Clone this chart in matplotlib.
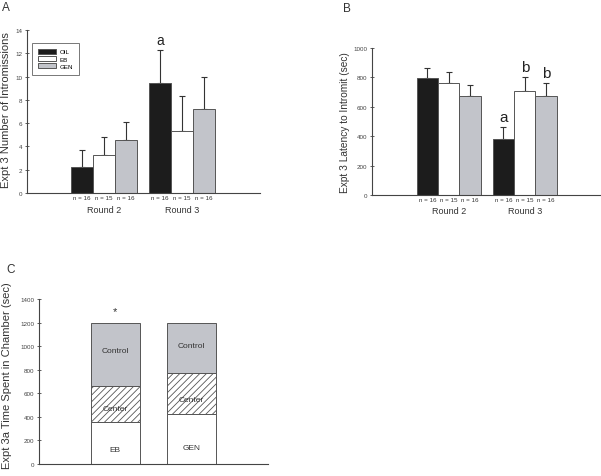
import matplotlib
matplotlib.use("Agg")
import matplotlib.pyplot as plt
import numpy as np

plt.rcParams['font.family'] = ['Liberation Sans', 'DejaVu Sans']
plt.rcParams['hatch.color'] = '#333333'
plt.rcParams['hatch.linewidth'] = 0.6

groups = ['OIL', 'EB', 'GEN']
rounds = ['Round 2', 'Round 3']
n_labels = [['n = 16', 'n = 15', 'n = 16'], ['n = 16', 'n = 15', 'n = 16']]

intro_mean = {'OIL': [2.2, 9.45], 'EB': [3.25, 5.35], 'GEN': [4.55, 7.2]}
intro_err = {'OIL': [1.5, 2.8], 'EB': [1.55, 3.0], 'GEN': [1.55, 2.8]}

lat_mean = {'OIL': [795, 380], 'EB': [760, 710], 'GEN': [675, 675]}
lat_err = {'OIL': [70, 85], 'EB': [75, 90], 'GEN': [70, 85]}

lat_letters = {'OIL': ['', 'a'], 'EB': ['', 'b'], 'GEN': ['', 'b']}
intro_letters = {'OIL': ['', 'a'], 'EB': ['', ''], 'GEN': ['', '']}

c_groups = ['EB', 'GEN']
c_own = [360, 425]
c_center = [305, 345]
c_control = [535, 430]

colors = {'OIL': '#1c1c1c', 'EB': '#ffffff', 'GEN': '#c2c4ca'}
edge = '#555555'

W, H = 601, 477
fig = plt.figure(figsize=(W / 100, H / 100), dpi=100)


def ax_px(l, r, top, bottom):
    return fig.add_axes([l / W, 1 - bottom / H, (r - l) / W, (bottom - top) / H])


def style(ax):
    for s in ['top', 'right']:
        ax.spines[s].set_visible(False)
    for s in ['left', 'bottom']:
        ax.spines[s].set_color('#444444')
        ax.spines[s].set_linewidth(0.8)
    ax.tick_params(axis='y', direction='inout', length=3, width=0.6, labelsize=4.5,
                   colors='#444444', pad=2)
    ax.set_xticks([])


def grouped(ax, means, errs, letters, ymax, lettersize):
    w = 0.282
    offs = [-w, 0, w]
    for gi, g in enumerate(groups):
        x = np.arange(len(rounds)) + offs[gi]
        ax.bar(x, means[g], width=w, color=colors[g], edgecolor=edge, linewidth=0.7,
               zorder=2, label=g)
        ax.errorbar(x, means[g], yerr=[np.zeros(2), errs[g]], fmt='none',
                    ecolor='#333333', elinewidth=0.8, capsize=2.5, capthick=0.8, zorder=1)
        for ri in range(len(rounds)):
            ax.text(x[ri], -0.012 * ymax, n_labels[ri][gi], ha='center', va='top',
                    fontsize=4.5, color='#333333')
            if letters[g][ri]:
                ax.text(x[ri], means[g][ri] + errs[g][ri] + 0.02 * ymax, letters[g][ri],
                        ha='center', va='bottom', fontsize=lettersize, color='#222222')
    for ri, r in enumerate(rounds):
        ax.text(ri, -0.075 * ymax, r, ha='center', va='top', fontsize=6.5, color='#333333')


# Panel A
axA = ax_px(27, 260, 31, 194)
style(axA)
grouped(axA, intro_mean, intro_err, intro_letters, 14, 10)
axA.set_xlim(-0.99, 2.0)
axA.set_ylim(0, 14)
axA.set_yticks(range(0, 15, 2))
axA.set_ylabel('Expt 3 Number of Intromissions', fontsize=8, color='#333333')
axA.yaxis.set_label_coords((11 - 27) / 233, 0.515)
leg = axA.legend(loc='upper left', bbox_to_anchor=(0.01, 0.94), fontsize=4.5, frameon=True,
                 fancybox=False, edgecolor='#555555', handlelength=2.9, handleheight=0.9,
                 borderpad=0.9, labelspacing=0.25, handletextpad=0.6)
leg.get_frame().set_linewidth(0.7)
fig.text(2 / W, 1 - 8 / H, 'A', fontsize=8.5, color='#333333', va='center', ha='left')

# Panel B
axB = ax_px(372, 600, 49, 196)
style(axB)
grouped(axB, lat_mean, lat_err, lat_letters, 1000, 11)
axB.set_xlim(-1.01, 1.99)
axB.set_ylim(0, 1000)
axB.set_yticks(range(0, 1001, 200))
axB.set_ylabel('Expt 3 Latency to Intromit (sec)', fontsize=7.3, color='#333333')
axB.yaxis.set_label_coords((350 - 372) / 228, 0.5)
fig.text(343 / W, 1 - 9 / H, 'B', fontsize=8.5, color='#333333', va='center', ha='left')

# Panel C
axC = ax_px(39, 268, 300, 465)
style(axC)
xc = np.arange(len(c_groups))
wc = 0.645
own = np.array(c_own)
cen = np.array(c_center)
con = np.array(c_control)
axC.bar(xc, own, width=wc, color='white', edgecolor=edge, linewidth=0.7)
axC.bar(xc, cen, width=wc, bottom=own, color='white', edgecolor=edge, linewidth=0.7,
        hatch='/////')
axC.bar(xc, con, width=wc, bottom=own + cen, color='#c2c4ca', edgecolor=edge, linewidth=0.7)
for i, g in enumerate(c_groups):
    axC.text(xc[i], own[i] * 0.33, g, ha='center', va='center', fontsize=6, color='#333333')
    axC.text(xc[i], own[i] + cen[i] * 0.35, 'Center', ha='center', va='center', fontsize=6,
             color='#333333')
    axC.text(xc[i], own[i] + cen[i] + con[i] * 0.55, 'Control', ha='center', va='center',
             fontsize=6, color='#333333')
axC.text(xc[0], 1300, '*', ha='center', va='center', fontsize=8, color='#333333')
axC.set_xlim(-1.0, 2.0)
axC.set_ylim(0, 1400)
axC.set_yticks(range(0, 1401, 200))
axC.set_ylabel('Expt 3a Time Spent in Chamber (sec)', fontsize=8, color='#333333')
axC.yaxis.set_label_coords((12 - 39) / 229, 0.54)
fig.text(6 / W, 1 - 270 / H, 'C', fontsize=8.5, color='#333333', va='center', ha='left')

fig.savefig('out.png', dpi=100)
